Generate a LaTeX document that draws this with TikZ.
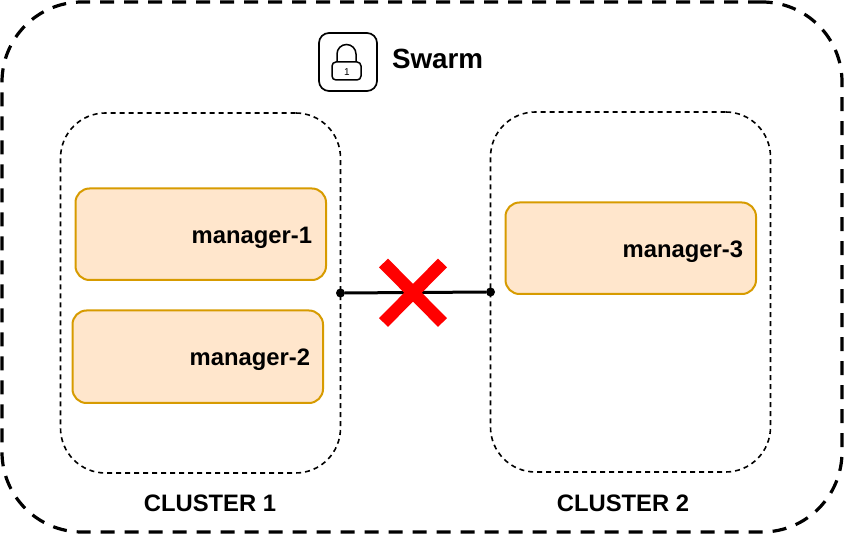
\documentclass[tikz,border=0pt]{standalone}
\usepackage{fontspec}
\setmainfont{Liberation Sans}
\definecolor{mgrfill}{HTML}{FFE6CC}
\definecolor{mgrline}{HTML}{D79B00}
\tikzset{
  px/.style={x=1pt,y=-1pt},
  every node/.style={outer sep=0pt},
  swarmbox/.style={draw=black,line width=3.2pt,dash pattern=on 14pt off 10pt,rounded corners=80pt,minimum width=840pt,minimum height=530pt,inner sep=0pt,anchor=north west},
  clusterbox/.style={draw=black,line width=1.6pt,dash pattern=on 5pt off 4pt,rounded corners=45pt,minimum width=280pt,minimum height=360pt,inner sep=0pt,anchor=north west},
  mgrbox/.style={draw=mgrline,fill=mgrfill,line width=2pt,rounded corners=14pt,minimum width=250.5pt,minimum height=91.5pt,inner sep=0pt,anchor=north west},
  mgrlabel/.style={font=\bfseries\fontsize{23.8}{28}\selectfont,inner sep=0pt,anchor=base east},
  clusterlabel/.style={font=\bfseries\fontsize{23.8}{28}\selectfont,inner sep=0pt,anchor=base},
  dotnode/.style={circle,fill=black,minimum size=9pt,inner sep=0pt},
  iconbox/.style={draw=black,line width=1.7pt,rounded corners=10pt,minimum size=58pt,inner sep=0pt,anchor=north west},
  lockbody/.style={draw=black,line width=1.5pt,rounded corners=4pt,minimum width=29pt,minimum height=18pt,inner sep=0pt,anchor=north west},
  cross/.style={draw=red,line width=12.5pt}
}
\begin{document}
\begin{tikzpicture}[px]
\useasboundingbox (0,0) rectangle (844,534);
\node[swarmbox] (swarm) at (2,2) {};
\node[clusterbox] (c1) at (60.5,113) {};
\node[clusterbox] (c2) at (490.5,112) {};
\node[mgrbox] (m1) at (75.5,188.5) {};
\node[mgrbox,minimum height=92.5pt] (m2) at (72.5,310.5) {};
\node[mgrbox] (m3) at (505.5,202.5) {};
\node[mgrlabel] (t1) at (312,243.5) {manager-1};
\node[mgrlabel] (t2) at (310,365.5) {manager-2};
\node[mgrlabel] (t3) at (743,257.5) {manager-3};
\node[clusterlabel] (l1) at (210,512) {CLUSTER 1};
\node[clusterlabel] (l2) at (623,511.5) {CLUSTER 2};
\node[font=\bfseries\fontsize{27.8}{32}\selectfont,inner sep=0pt,anchor=base west] (title) at (392,68.5) {Swarm};
% lock icon
\node[iconbox] (icon) at (319,33) {};
\node[lockbody] (lock) at (332,62) {};
\draw[line width=1.5pt] (337,62) -- (337,54) arc[start angle=180,end angle=0,radius=9.5pt] -- (356,62);
\node[font=\fontsize{10}{12}\selectfont,inner sep=0pt] (one) at (347,72) {1};
% connector
\node[dotnode] (d1) at (340.5,293) {};
\node[dotnode] (d2) at (490.5,292) {};
\draw[line width=3pt] (d1) -- (d2);
% cross
\coordinate (xa) at (383.5,263);
\coordinate (xb) at (442.5,322.5);
\coordinate (xc) at (442.5,263);
\coordinate (xd) at (383.5,322.5);
\draw[cross] (xa) -- (xb);
\draw[cross] (xc) -- (xd);
\end{tikzpicture}
\end{document}
